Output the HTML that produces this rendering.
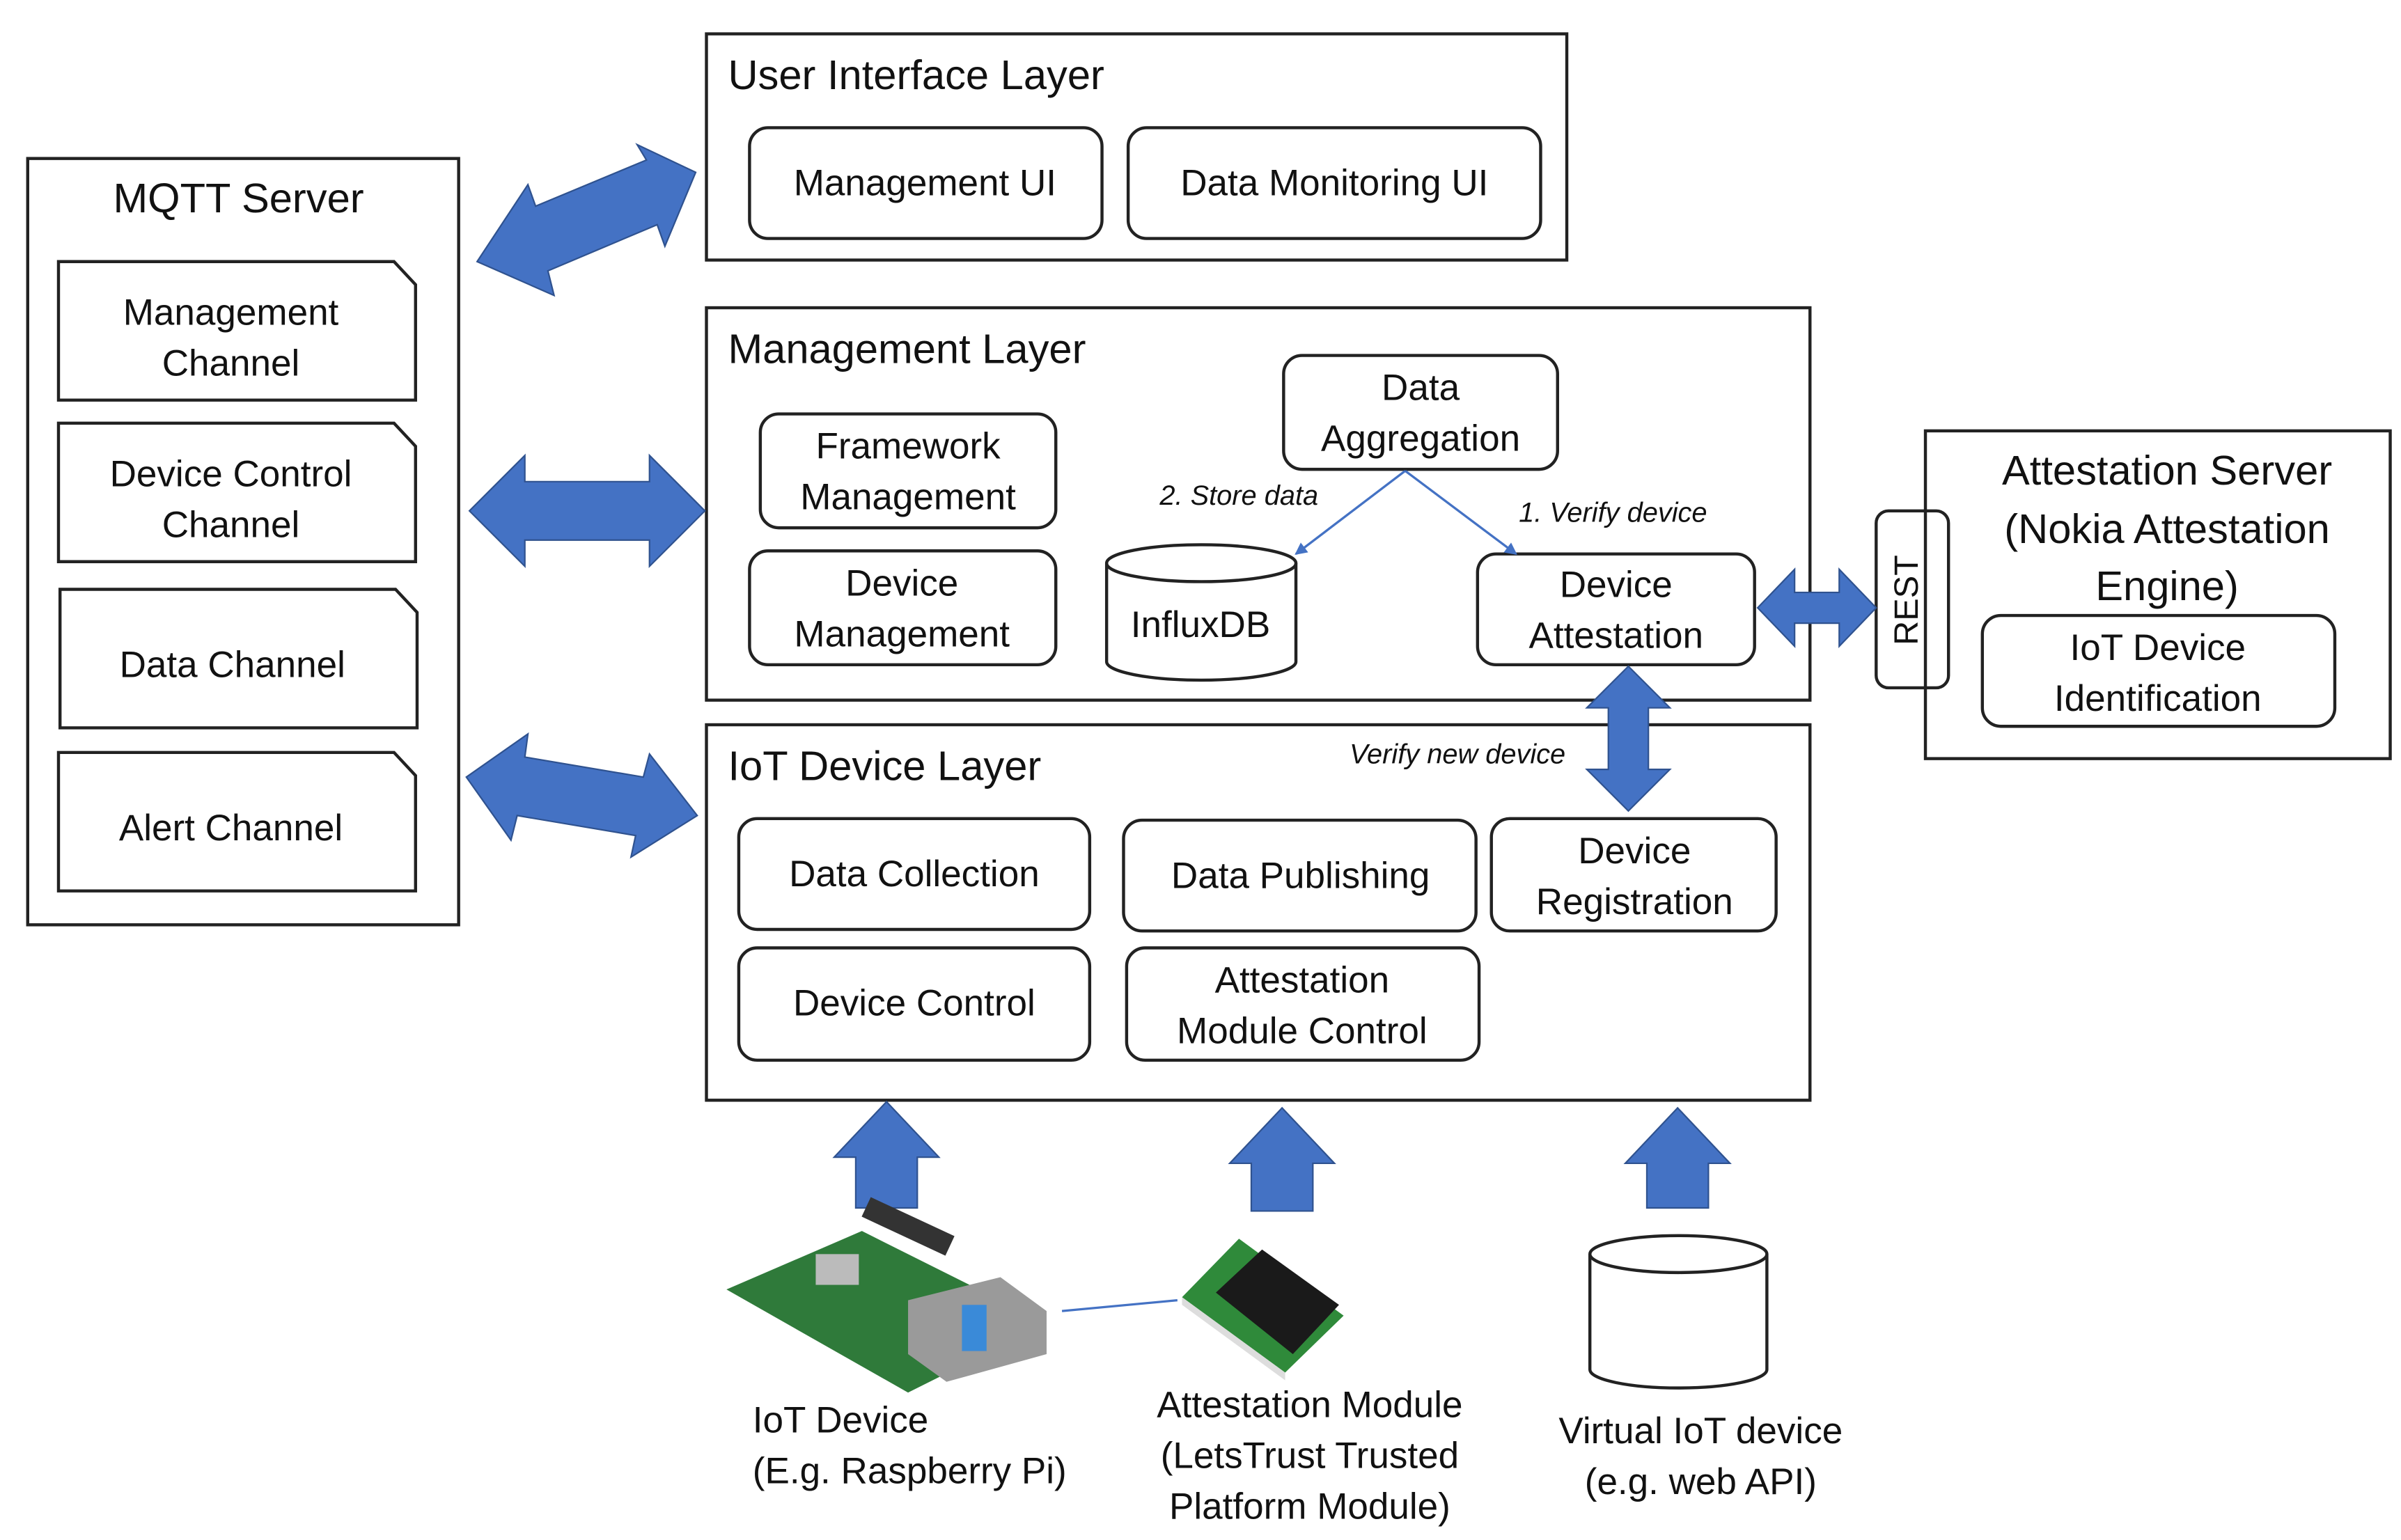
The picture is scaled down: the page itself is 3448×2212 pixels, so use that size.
<!DOCTYPE html>
<html><head><meta charset="utf-8"><style>
html,body{margin:0;padding:0;background:#fff}
svg{display:block}
text{font-family:"Liberation Sans","DejaVu Sans",sans-serif;fill:#111}
</style></head><body>
<svg width="3448" height="2212" viewBox="0 0 1560 1000.8" preserveAspectRatio="none" xmlns="http://www.w3.org/2000/svg">
<defs>
<marker id="ah" markerWidth="8" markerHeight="8" refX="7" refY="4" orient="auto" markerUnits="userSpaceOnUse"><path d="M0,0 L8,4 L0,8 z" fill="#4472C4"/></marker>
</defs>
<g fill="none" stroke="#222" stroke-width="2">
<rect x="18" y="103" width="280" height="498"/>
<path d="M38,170 H256 L270,185 V260 H38 Z"/>
<path d="M38,275 H256 L270,290 V365 H38 Z"/>
<path d="M39,383 H257 L271,398 V473 H39 Z"/>
<path d="M38,489 H256 L270,504 V579 H38 Z"/>
<rect x="459" y="22" width="559" height="147"/>
<rect x="487" y="83" width="229" height="72" rx="12"/>
<rect x="733" y="83" width="268" height="72" rx="12"/>
<rect x="459" y="200" width="717" height="255"/>
<rect x="494" y="269" width="192" height="74" rx="12"/>
<rect x="487" y="358" width="199" height="74" rx="12"/>
<rect x="834" y="231" width="178" height="74" rx="12"/>
<rect x="960" y="360" width="180" height="72" rx="12"/>
<path d="M719,366 V430 A61.5,12 0 0 0 842,430 V366"/>
<ellipse cx="780.5" cy="366" rx="61.5" ry="12"/>
<rect x="459" y="471" width="717" height="244"/>
<rect x="480" y="532" width="228" height="72" rx="12"/>
<rect x="480" y="616" width="228" height="73" rx="12"/>
<rect x="730" y="533" width="229" height="72" rx="12"/>
<rect x="732" y="616" width="229" height="73" rx="12"/>
<rect x="969" y="532" width="185" height="73" rx="12"/>
<rect x="1219" y="332" width="47" height="115" rx="8"/>
<rect x="1251" y="280" width="302" height="213"/>
<rect x="1288" y="400" width="229" height="72" rx="12"/>
<path d="M1033,815 V890 A57.5,12 0 0 0 1148,890 V815"/>
<ellipse cx="1090.5" cy="815" rx="57.5" ry="12"/>
</g>
<g stroke="#4472C4" stroke-width="1.5" fill="none">
<line x1="913" y1="306" x2="842" y2="360" marker-end="url(#ah)"/>
<line x1="913" y1="306" x2="985" y2="360" marker-end="url(#ah)"/>
<line x1="690" y1="852" x2="765" y2="845"/>
</g>
<g fill="#4472C4" stroke="#2f528f" stroke-width="1">
<path d="M310,170 L343,120 L348,134 L420,104 L414,94 L452,112 L432,160 L427,146 L356,176 L360,192 Z"/>
<path d="M305,332 L341,296 V313 H422 V296 L458,332 L422,368 V351 H341 V368 Z"/>
<path d="M303,505 L343,477 L341,492 L418,505 L422,490 L453,530 L410,557 L413,543 L336,530 L332,546 Z"/>
<path d="M1058,433 L1085,460 H1071 V500 H1085 L1058,527 L1031,500 H1045 V460 H1031 Z"/>
<path d="M1142,395 L1166,370 V385 H1195 V370 L1219,395 L1195,420 V405 H1166 V420 Z"/>
<path d="M576,716 L610,752 H596 V785 H556 V752 H542 Z"/>
<path d="M833,720 L867,756 H853 V787 H813 V756 H799 Z"/>
<path d="M1090,720 L1124,756 H1110 V785 H1070 V756 H1056 Z"/>
</g>
<g>
<path d="M472,838 L560,800 L680,860 L590,905 Z" fill="#2f7a3a"/>
<rect x="560" y="790" width="60" height="14" fill="#333" transform="rotate(25 590 797)"/>
<path d="M590,845 L650,830 L680,852 L680,880 L615,898 L590,880 Z" fill="#9a9a9a"/>
<rect x="625" y="848" width="16" height="30" fill="#3a8ad8"/>
<rect x="530" y="815" width="28" height="20" fill="#bbb"/>
</g>
<g>
<path d="M768,843 L805,805 L873,855 L835,892 Z" fill="#2f8a3a"/>
<path d="M790,840 L820,812 L870,848 L840,880 Z" fill="#1a1a1a"/>
<path d="M768,843 L835,892 L835,897 L768,848 Z" fill="#ddd"/>
</g>
<g font-size="27">
<text x="155" y="138" text-anchor="middle">MQTT Server</text>
<text x="473" y="58">User Interface Layer</text>
<text x="473" y="236">Management Layer</text>
<text x="473" y="507">IoT Device Layer</text>
<text x="1408" y="315" text-anchor="middle">Attestation Server</text>
<text x="1408" y="353" text-anchor="middle">(Nokia Attestation</text>
<text x="1408" y="390" text-anchor="middle">Engine)</text>
</g>
<g font-size="24">
<text x="150" y="211" text-anchor="middle">Management</text>
<text x="150" y="244" text-anchor="middle">Channel</text>
<text x="150" y="316" text-anchor="middle">Device Control</text>
<text x="150" y="349" text-anchor="middle">Channel</text>
<text x="151" y="440" text-anchor="middle">Data Channel</text>
<text x="150" y="546" text-anchor="middle">Alert Channel</text>
<text x="601" y="127" text-anchor="middle">Management UI</text>
<text x="867" y="127" text-anchor="middle">Data Monitoring UI</text>
<text x="590" y="298" text-anchor="middle">Framework</text>
<text x="590" y="331" text-anchor="middle">Management</text>
<text x="586" y="387" text-anchor="middle">Device</text>
<text x="586" y="420" text-anchor="middle">Management</text>
<text x="923" y="260" text-anchor="middle">Data</text>
<text x="923" y="293" text-anchor="middle">Aggregation</text>
<text x="780" y="414" text-anchor="middle">InfluxDB</text>
<text x="1050" y="388" text-anchor="middle">Device</text>
<text x="1050" y="421" text-anchor="middle">Attestation</text>
<text x="594" y="576" text-anchor="middle">Data Collection</text>
<text x="594" y="660" text-anchor="middle">Device Control</text>
<text x="845" y="577" text-anchor="middle">Data Publishing</text>
<text x="846" y="645" text-anchor="middle">Attestation</text>
<text x="846" y="678" text-anchor="middle">Module Control</text>
<text x="1062" y="561" text-anchor="middle">Device</text>
<text x="1062" y="594" text-anchor="middle">Registration</text>
<text x="1402" y="429" text-anchor="middle">IoT Device</text>
<text x="1402" y="462" text-anchor="middle">Identification</text>
<text transform="translate(1246,390) rotate(-90)" text-anchor="middle" font-size="22">REST</text>
<text x="489" y="931">IoT Device</text>
<text x="489" y="964">(E.g. Raspberry Pi)</text>
<text x="851" y="921" text-anchor="middle">Attestation Module</text>
<text x="851" y="954" text-anchor="middle">(LetsTrust Trusted</text>
<text x="851" y="987" text-anchor="middle">Platform Module)</text>
<text x="1105" y="938" text-anchor="middle">Virtual IoT device</text>
<text x="1105" y="971" text-anchor="middle">(e.g. web API)</text>
</g>
<g font-size="18" font-style="italic">
<text x="805" y="328" text-anchor="middle">2. Store data</text>
<text x="1048" y="339" text-anchor="middle">1. Verify device</text>
<text x="947" y="496" text-anchor="middle">Verify new device</text>
</g>
</svg>
</body></html>
